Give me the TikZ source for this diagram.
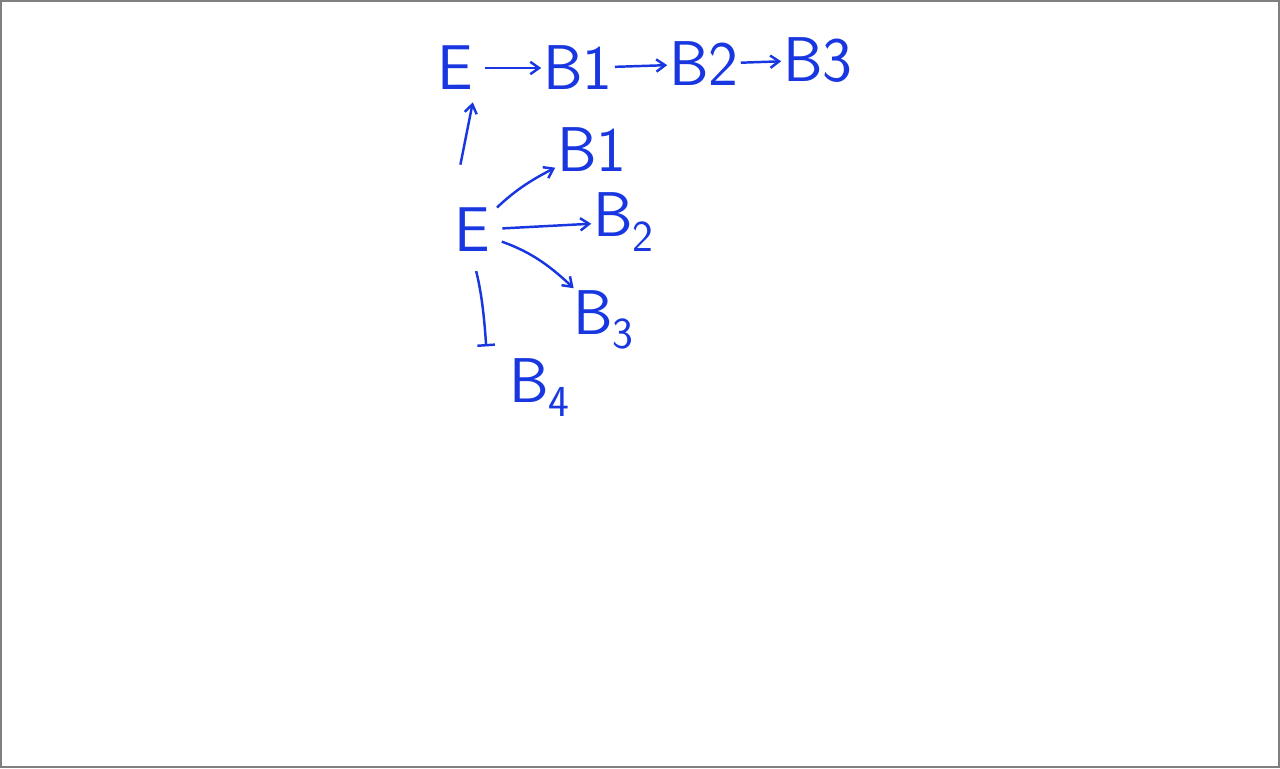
\documentclass[tikz,border=0pt]{standalone}
\usepackage{tikz}
\usetikzlibrary{arrows.meta,positioning}
\definecolor{ink}{RGB}{25,55,225}
\begin{document}
\begin{tikzpicture}[>={Straight Barb[length=5pt,width=7pt]},x=0.02cm,y=-0.02cm,
lbl/.style={ink,font=\fontsize{36}{42}\selectfont\sffamily,inner sep=1pt},
pen/.style={ink,line width=1.4pt}]
\useasboundingbox (0,0) rectangle (1280,768);
\draw[gray,line width=1.2pt] (1,1) rectangle (1279,767);
% chain along the top
\node[lbl] (E) at (455,68) {E};
\node[lbl] (B1) at (578,68) {B1};
\node[lbl] (B2) at (704,64) {B2};
\node[lbl] (B3) at (818,60) {B3};
\draw[pen,->,shorten <=6pt](E)--(B1);
\draw[pen,->](B1)--(B2);
\draw[pen,->](B2)--(B3);
% the fan below
\node[lbl] (e) at (472,230) {E};
\node[lbl] (b1) at (592,150) {B1};
\node[lbl] (b2) at (624,222) {B\textsubscript{2}};
\node[lbl] (b3) at (604,320) {B\textsubscript{3}};
\node[lbl] (b4) at (540,388) {B\textsubscript{4}};
\draw[pen,->,shorten <=24pt,shorten >=6pt](e.north west)--(E.south east);
\draw[pen,->,shorten <=4pt](e) to[bend left=8] (b1);
\draw[pen,->,shorten <=6pt](e)--(b2);
\draw[pen,->,shorten <=6pt](e) to[bend left=12] (b3);
\draw[pen,-{Bar[width=10pt]},shorten <=10pt](e.south) to[bend left=5] ([xshift=-12pt,yshift=6pt]b4.north west);
\end{tikzpicture}
\end{document}
